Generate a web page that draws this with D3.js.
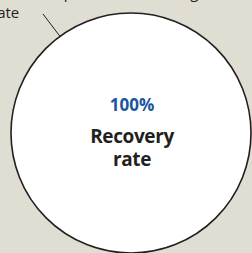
<!DOCTYPE html>
<html>
<head>
<meta charset="utf-8">
<script src="https://cdn.jsdelivr.net/npm/d3@7"></script>
<style>
  html, body { margin: 0; padding: 0; background: #e0ddd3; overflow: hidden; }
  svg { display: block; }
</style>
</head>
<body>
<div id="graph"></div>
<script>
// chart data
var categories = ["Recovery rate"];
var values = [100];
var valueLabels = ["100%"];
var noteLines = ["Proportion of patients recovering", "rate"];

var width = 252, height = 253;

var svg = d3.select("#graph")
  .append("svg")
  .attr("width", width)
  .attr("height", height);

svg.append("rect")
  .attr("width", width)
  .attr("height", height)
  .attr("fill", "#e0ddd3");

// circle area scaled by the rate
var r = d3.scaleSqrt().domain([0, 100]).range([0, 120]);
var cx = 131, cy = 133;

var g = svg.append("g")
  .attr("transform", "translate(" + cx + "," + cy + ")");

g.selectAll("circle")
  .data(values)
  .enter()
  .append("circle")
    .attr("r", function(d) { return r(d); })
    .attr("fill", "#ffffff")
    .attr("stroke", "#231f20")
    .attr("stroke-width", 1.6);

// value label
g.selectAll("text.value")
  .data(valueLabels)
  .enter()
  .append("text")
    .attr("class", "value")
    .attr("x", 1)
    .attr("y", -22)
    .attr("text-anchor", "middle")
    .attr("font-family", "'Open Sans', sans-serif")
    .attr("font-weight", "bold")
    .attr("font-size", 17)
    .attr("fill", "#1a56a0")
    .text(function(d) { return d; });

// category label, two lines
var words = categories[0].split(" ");
g.append("text")
  .attr("text-anchor", "middle")
  .attr("font-family", "'Open Sans', sans-serif")
  .attr("font-weight", "bold")
  .attr("font-size", 19)
  .attr("letter-spacing", -0.4)
  .attr("fill", "#231f20")
  .selectAll("tspan")
  .data(words)
  .enter()
  .append("tspan")
    .attr("x", 1)
    .attr("y", function(d, i) { return 10 + i * 23; })
    .text(function(d, i) { return i == 0 ? d : d.toLowerCase(); });

// note in the top left corner, partly cut off
svg.append("text")
  .attr("font-family", "'Open Sans', sans-serif")
  .attr("font-size", 15)
  .attr("fill", "#231f20")
  .selectAll("tspan")
  .data(noteLines)
  .enter()
  .append("tspan")
    .attr("x", function(d, i) { return i == 0 ? -34 : -9; })
    .attr("y", function(d, i) { return -2 + i * 20; })
    .text(function(d) { return d; });

// leader line from note to circle edge
var ang = Math.atan2(35 - cy, 59 - cx);
var edge = r(values[0]);
svg.append("line")
  .attr("x1", 43)
  .attr("y1", 14)
  .attr("x2", cx + Math.cos(ang) * edge)
  .attr("y2", cy + Math.sin(ang) * edge)
  .attr("stroke", "#231f20")
  .attr("stroke-width", 1);
</script>
</body>
</html>
